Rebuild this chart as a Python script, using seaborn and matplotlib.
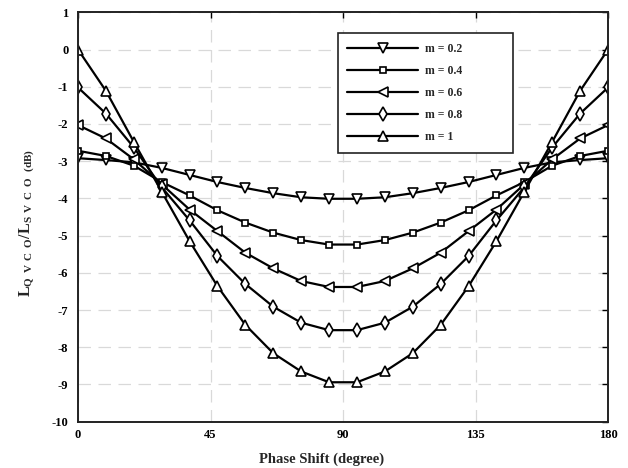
import numpy as np
import pandas as pd
import seaborn as sns
import matplotlib.pyplot as plt

# phase shift samples (20 points from 0 to 180 degree)
phase = np.linspace(0, 180, 20)

# values (left half, mirrored about 90 degree)
half_02 = [-2.92, -2.97, -3.03, -3.18, -3.37, -3.56, -3.72, -3.86, -3.97, -4.01]
half_04 = [-2.72, -2.86, -3.12, -3.56, -3.92, -4.32, -4.65, -4.92, -5.12, -5.24]
half_06 = [-2.03, -2.39, -2.95, -3.62, -4.30, -4.88, -5.46, -5.88, -6.22, -6.38]
half_08 = [-1.02, -1.72, -2.63, -3.70, -4.59, -5.55, -6.30, -6.91, -7.34, -7.54]
half_10 = [0.00, -1.11, -2.48, -3.82, -5.15, -6.36, -7.40, -8.16, -8.65, -8.94]

labels = ['m = 0.2', 'm = 0.4', 'm = 0.6', 'm = 0.8', 'm = 1']
halves = [half_02, half_04, half_06, half_08, half_10]
markers = ['v', 's', '<', 'd', '^']
msizes = [7, 5, 7, 7, 7.5]

x_ticks = [0, 45, 90, 135, 180]
y_ticks = list(range(-10, 2))

sns.set_theme(style='white')
plt.rcParams['font.family'] = ['Liberation Serif', 'DejaVu Serif']
plt.rcParams['font.weight'] = 'bold'
plt.rcParams['axes.unicode_minus'] = False
plt.rcParams['mathtext.fontset'] = 'custom'
plt.rcParams['mathtext.rm'] = 'Liberation Serif:bold'
plt.rcParams['mathtext.bf'] = 'Liberation Serif:bold'
plt.rcParams['mathtext.it'] = 'Liberation Serif:bold'

fig = plt.figure(figsize=(6.28, 4.68), dpi=100)
ax = fig.add_axes([0.1242, 0.0989, 0.8440, 0.8748])

for lab, half, mk, ms in zip(labels, halves, markers, msizes):
    vals = np.array(half + half[::-1])
    sns.lineplot(x=phase, y=vals, ax=ax, color='black', linewidth=1.6,
                 marker=mk, markersize=ms, markerfacecolor='white',
                 markeredgecolor='black', markeredgewidth=1.2, label=lab)

ax.set_xlim(0, 180)
ax.set_ylim(-10, 1)
ax.set_xticks(x_ticks)
ax.set_yticks(y_ticks)
ax.tick_params(direction='in', top=True, right=True, length=4, width=1,
               labelsize=9, pad=5, colors='black')
ax.tick_params(axis='y', pad=7)
ax.grid(True, color='#d9d9d9', linestyle=(0, (10, 6)), linewidth=0.9)
for s in ax.spines.values():
    s.set_color('#222222')
    s.set_linewidth(1.4)

ax.set_xlabel('Phase Shift (degree)', fontsize=10.5, fontweight='bold')
ax.xaxis.set_label_coords(0.46, -0.075)
ax.set_ylabel(r'$\mathrm{L}_{\mathrm{Q\ \,V\ \,C\ \,O}}\mathrm{/L}_{\mathrm{S\ \,V\ \,C\ \,O}\ \ \mathrm{(dB)}}$',
              fontsize=11.5)
ax.yaxis.set_label_coords(-0.078, 0.485)

leg = ax.legend(loc='upper left', bbox_to_anchor=(0.49, 0.949, 0.33, 0.0),
                mode='expand', borderaxespad=0, fontsize=8.5, frameon=True,
                fancybox=False, framealpha=1, edgecolor='#222222',
                handlelength=6.0, handletextpad=0.6, labelspacing=0.86,
                borderpad=0.8)
leg.get_frame().set_linewidth(1.2)
for t in leg.get_texts():
    t.set_fontweight('bold')

fig.savefig('out.png', dpi=100)
